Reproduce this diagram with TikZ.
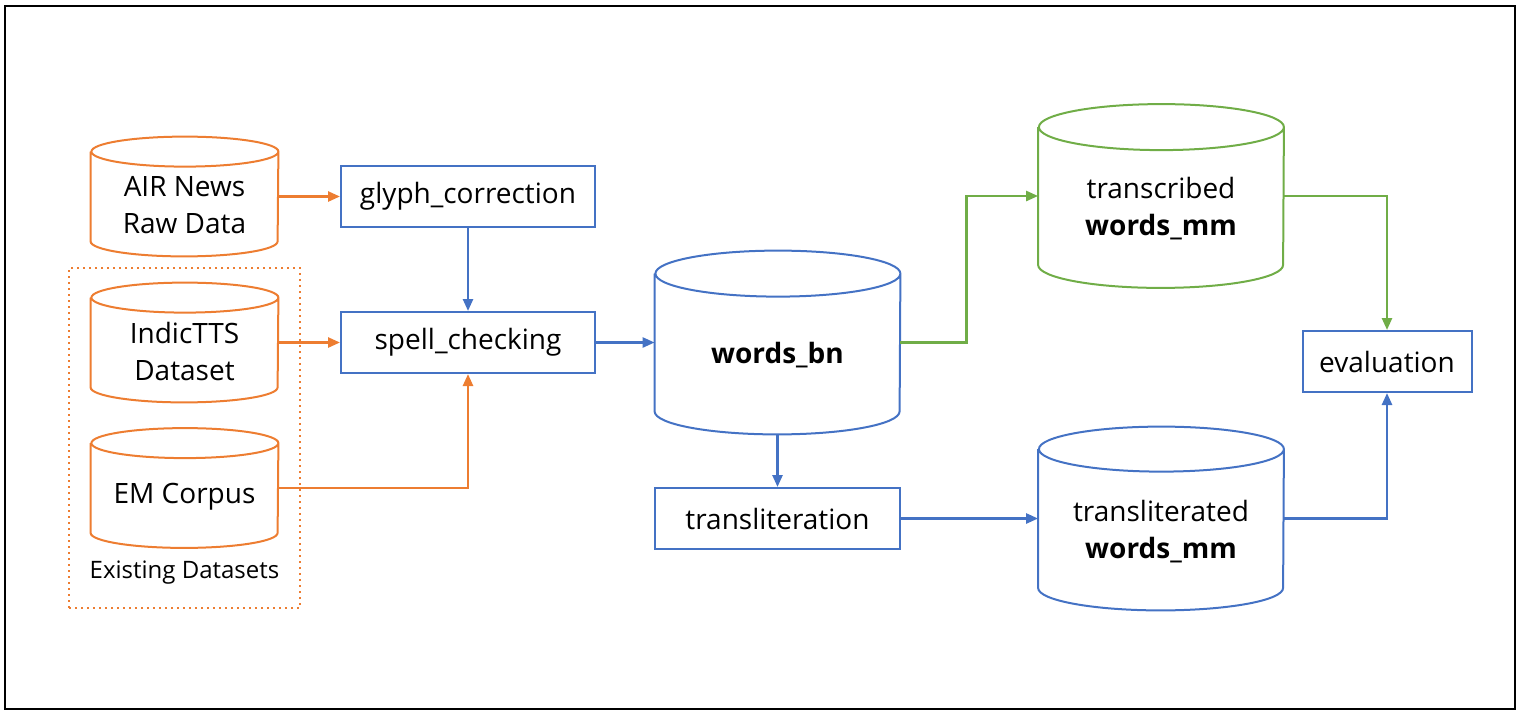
\documentclass[tikz,border=0pt]{standalone}
\usepackage{fontspec}
\setmainfont{Open Sans}
\usetikzlibrary{arrows.meta,positioning}

\definecolor{pipeorange}{HTML}{ED7D31}
\definecolor{pipeblue}{HTML}{4472C4}
\definecolor{pipegreen}{HTML}{70AD47}

% outline of a database drum round a named node: node, colour, x radius, y radius
\newcommand{\dbdrum}[4]{%
  \draw[#2,line width=1pt] ([yshift=-#4]#1.north west) -- ([yshift=#4]#1.south west)
    arc[start angle=180,end angle=360,x radius=#3,y radius=#4]
    -- ([yshift=-#4]#1.north east)
    arc[start angle=0,end angle=360,x radius=#3,y radius=#4];
}

\begin{document}
\begin{tikzpicture}[x=0.5pt,y=-0.5pt]
\tikzset{
  procbox/.style={rectangle,draw=pipeblue,line width=1pt,minimum width=127pt,minimum height=30.5pt,inner sep=2pt,font=\fontsize{14}{17}\selectfont},
  dbsmall/.style={rectangle,inner sep=0pt,minimum width=93.5pt,minimum height=59.5pt},
  dbbig/.style={rectangle,inner sep=0pt,minimum width=122.5pt,minimum height=91.5pt},
  dbtext/.style={align=center,inner sep=0pt,font=\fontsize{14}{18.5}\selectfont},
  groupbox/.style={rectangle,draw=pipeorange,line width=1pt,dotted},
  flow/.style={-{Triangle[length=6pt,width=5pt]},line width=1.25pt,draw=#1}
}
\useasboundingbox (0,0) rectangle (1520,713);
\draw[line width=1pt] (5,6) rectangle (1515,709);

% sources
\node[groupbox,minimum width=115.5pt,minimum height=170pt] (n_existing) at (184.5,438) {};
\node[dbsmall] (n_air) at (184.5,196.5) {};
\node[dbsmall] (n_indic) at (184.5,342.5) {};
\node[dbsmall] (n_em) at (184.5,488) {};
\dbdrum{n_air}{pipeorange}{46.75pt}{7.5pt}
\dbdrum{n_indic}{pipeorange}{46.75pt}{7.5pt}
\dbdrum{n_em}{pipeorange}{46.75pt}{7.5pt}
\node[dbtext,yshift=-4.5pt] (t_air) at (n_air.center) {AIR News\\Raw Data};
\node[dbtext,yshift=-4.5pt] (t_indic) at (n_indic.center) {IndicTTS\\Dataset};
\node[dbtext,yshift=-4.5pt] (t_em) at (n_em.center) {EM Corpus};
\node[font=\fontsize{12}{14}\selectfont] (t_existing) at (184.5,573) {Existing Datasets};

% processing
\node[procbox] (n_glyph) at (468,196.5) {glyph\_correction};
\node[procbox] (n_spell) at (468,342.5) {spell\_checking};
\node[dbbig] (n_bn) at (777.5,342.5) {};
\dbdrum{n_bn}{pipeblue}{61.25pt}{11.5pt}
\node[dbtext,yshift=-6.5pt,font=\fontsize{14}{18.5}\selectfont\bfseries] (t_bn) at (n_bn.center) {words\_bn};
\node[procbox,minimum width=122.5pt] (n_translit) at (777.5,518.5) {transliteration};
\node[dbbig] (n_transcribed) at (1161,196) {};
\dbdrum{n_transcribed}{pipegreen}{61.25pt}{11.5pt}
\node[dbtext,yshift=-6.5pt] (t_transcribed) at (n_transcribed.center) {transcribed\\\textbf{words\_mm}};
\node[dbbig] (n_transliterated) at (1161,518.5) {};
\dbdrum{n_transliterated}{pipeblue}{61.25pt}{11.25pt}
\node[dbtext,yshift=-6.5pt] (t_transliterated) at (n_transliterated.center) {transliterated\\\textbf{words\_mm}};
\node[procbox,minimum width=84.5pt] (n_eval) at (1387,361.5) {evaluation};

% connectors
\draw[flow=pipeorange] (n_air) -- (n_glyph);
\draw[flow=pipeorange] (n_indic) -- (n_spell);
\draw[flow=pipeorange] (n_em.east) -| (n_spell.south);
\draw[flow=pipeblue] (n_glyph) -- (n_spell);
\draw[flow=pipeblue] (n_spell) -- (n_bn);
\draw[flow=pipeblue] (n_bn.south) -- (n_translit.north);
\draw[flow=pipegreen] (n_bn.east) -- ++(66,0) |- (n_transcribed.west);
\draw[flow=pipeblue] (n_translit) -- (n_transliterated);
\draw[flow=pipegreen] (n_transcribed.east) -| (n_eval.north);
\draw[flow=pipeblue] (n_transliterated.east) -| (n_eval.south);
\end{tikzpicture}
\end{document}
